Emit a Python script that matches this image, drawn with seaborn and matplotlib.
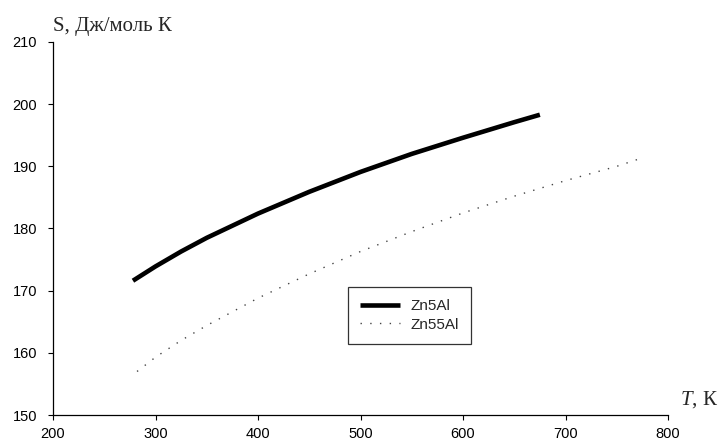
import pandas as pd
import matplotlib.pyplot as plt
import seaborn as sns

# values
t_zn5 = [278, 300, 325, 350, 400, 450, 500, 550, 600, 650, 675]
s_zn5 = [171.6, 173.9, 176.3, 178.5, 182.4, 185.9, 189.1, 192.0, 194.6, 197.1, 198.3]

t_zn55 = [282, 300, 325, 350, 400, 450, 500, 550, 600, 650, 700, 750, 772]
s_zn55 = [157.0, 159.3, 162.0, 164.4, 168.8, 172.7, 176.3, 179.5, 182.5, 185.2, 187.7, 190.0, 191.2]

sns.set_style("ticks")
plt.rcParams['font.family'] = ['Liberation Sans', 'DejaVu Sans']
plt.rcParams['mathtext.fontset'] = 'custom'
plt.rcParams['mathtext.it'] = 'Liberation Serif:italic'
plt.rcParams['mathtext.rm'] = 'Liberation Serif'

df5 = pd.DataFrame({"T": t_zn5, "S": s_zn5})
df55 = pd.DataFrame({"T": t_zn55, "S": s_zn55})

fig = plt.figure(figsize=(7.2, 4.44), dpi=100)
ax = fig.add_axes([53 / 720, 29 / 444, 615 / 720, 373 / 444])

sns.lineplot(data=df5, x="T", y="S", ax=ax, color="black", linewidth=3.3,
             solid_capstyle="butt", label="Zn5Al")
sns.lineplot(data=df55, x="T", y="S", ax=ax, color="#444444", linewidth=1.0,
             linestyle=(0, (1, 6)), label="Zn55Al")

ax.set_xlim(200, 800)
ax.set_ylim(150, 210)
ax.set_xticks(range(200, 801, 100))
ax.set_yticks(range(150, 211, 10))
ax.tick_params(axis="both", labelsize=10.5, length=3.5, width=0.8, colors="black")
ax.tick_params(axis="y", pad=8)
ax.tick_params(axis="x", pad=5)
for sp in ["left", "bottom"]:
    ax.spines[sp].set_linewidth(0.9)
    ax.spines[sp].set_color("black")
sns.despine(ax=ax)
ax.set_xlabel("")
ax.set_ylabel("")

fig.text(53 / 720, 1 - 26 / 444, "S, Дж/моль К", family="Liberation Serif",
         fontsize=15, va="center", ha="left")
fig.text(718 / 720, 1 - 400 / 444, "$T$, К", family="Liberation Serif",
         fontsize=15, va="center", ha="right")

leg = ax.legend(loc="center", bbox_to_anchor=(0.58, 0.267), fontsize=11,
                frameon=True, fancybox=False, edgecolor="black",
                borderpad=0.8, handlelength=2.6, handletextpad=0.7,
                labelspacing=0.3)
leg.get_frame().set_linewidth(0.9)

fig.savefig("out.png", dpi=100, facecolor="white")
